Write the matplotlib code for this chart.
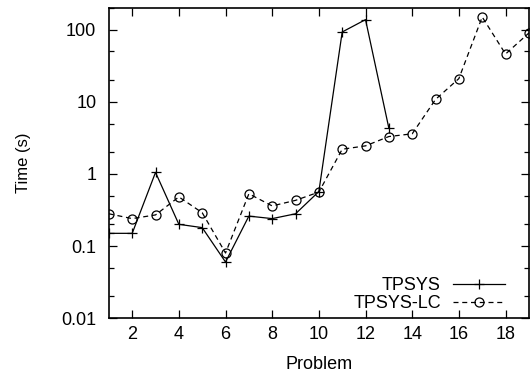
import matplotlib
matplotlib.use('Agg')
import matplotlib.pyplot as plt
from matplotlib.ticker import FixedLocator, FuncFormatter, LogLocator, NullFormatter

plt.rcParams['font.family'] = ['Liberation Sans', 'DejaVu Sans']

# problem numbers and run times (s)
prob_tpsys = [1, 2, 3, 4, 5, 6, 7, 8, 9, 10, 11, 12, 13]
time_tpsys = [0.15, 0.15, 1.05, 0.2, 0.18, 0.06, 0.26, 0.24, 0.28, 0.57, 93, 138, 4.3]

prob_lc = [1, 2, 3, 4, 5, 6, 7, 8, 9, 10, 11, 12, 13, 14, 15, 16, 17, 18, 19]
time_lc = [0.28, 0.24, 0.27, 0.48, 0.29, 0.08, 0.53, 0.36, 0.43, 0.56,
           2.2, 2.45, 3.3, 3.6, 10.8, 21, 150, 46, 90]

xticks = [2, 4, 6, 8, 10, 12, 14, 16, 18]
yticks = [0.01, 0.1, 1, 10, 100]

fig = plt.figure(figsize=(5.31, 3.81), dpi=100)
ax = fig.add_axes([0.205, 0.165, 0.791, 0.814])

ax.plot(prob_tpsys, time_tpsys, color='black', lw=0.9, marker='+', ms=6.5,
        mew=0.9, label='TPSYS')
ax.plot(prob_lc, time_lc, color='black', lw=0.9, ls=(0, (4, 3)), marker='o',
        ms=6.5, mfc='none', mew=0.9, label='TPSYS-LC')

ax.set_yscale('log')
ax.set_xlim(1, 19)
ax.set_ylim(0.01, 200)
ax.xaxis.set_major_locator(FixedLocator(xticks))
ax.yaxis.set_major_locator(FixedLocator(yticks))
ax.yaxis.set_major_formatter(FuncFormatter(lambda v, p: '%g' % v))
ax.yaxis.set_minor_locator(LogLocator(base=10, subs=[2, 5]))
ax.yaxis.set_minor_formatter(NullFormatter())

ax.tick_params(which='both', direction='in', top=True, right=True,
               labelsize=13, width=0.9)
ax.tick_params(which='major', length=6)
ax.tick_params(axis='y', which='major', pad=9)
ax.tick_params(axis='x', which='major', pad=6)
ax.tick_params(which='minor', length=3.5)
for s in ax.spines.values():
    s.set_linewidth(1.2)

ax.set_xlabel('Problem', fontsize=13, labelpad=9)
ax.set_ylabel('Time (s)', fontsize=12, labelpad=22)

ax.legend(loc='lower right', bbox_to_anchor=(0.943, 0.02), frameon=False,
          markerfirst=False, fontsize=13, handlelength=2.9, handletextpad=0.65,
          labelspacing=0.05, borderaxespad=0, borderpad=0)

fig.savefig('out.png', dpi=100)
